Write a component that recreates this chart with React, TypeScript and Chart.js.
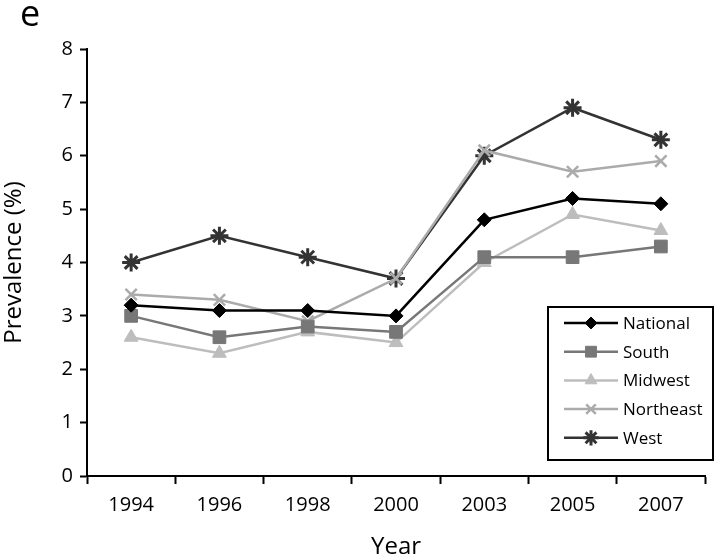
import React, { useEffect, useRef } from "react";
import { Chart, registerables } from "chart.js";
import { drawPoint } from "chart.js/helpers";

Chart.register(...registerables);

const years = ["1994", "1996", "1998", "2000", "2003", "2005", "2007"];
const national = [3.2, 3.1, 3.1, 3.0, 4.8, 5.2, 5.1];
const south = [3.0, 2.6, 2.8, 2.7, 4.1, 4.1, 4.3];
const midwest = [2.6, 2.3, 2.7, 2.5, 4.0, 4.9, 4.6];
const northeast = [3.4, 3.3, 2.9, 3.7, 6.1, 5.7, 5.9];
const west = [4.0, 4.5, 4.1, 3.7, 6.0, 6.9, 6.3];

const FONT = "'Open Sans', 'DejaVu Sans', sans-serif";

const seriesDefs = [
  { label: "National", data: national, color: "#000000", style: "rectRot", radius: 7, bw: 1 },
  { label: "South", data: south, color: "#777777", style: "rect", radius: 9, bw: 1 },
  { label: "Midwest", data: midwest, color: "#bdbdbd", style: "triangle", radius: 8, bw: 1 },
  { label: "Northeast", data: northeast, color: "#ababab", style: "crossRot", radius: 8, bw: 2.5 },
  { label: "West", data: west, color: "#333333", style: "star", radius: 9, bw: 3 },
];

const legendPlugin = {
  id: "boxLegend",
  afterDraw(chart: any) {
    const ctx = chart.ctx;
    const left = 548, top = 307, right = 713, bottom = 460;
    ctx.save();
    ctx.fillStyle = "#ffffff";
    ctx.fillRect(left, top, right - left, bottom - top);
    ctx.strokeStyle = "#000000";
    ctx.lineWidth = 2;
    ctx.strokeRect(left, top, right - left, bottom - top);
    const rowH = 28.7;
    seriesDefs.forEach((s, i) => {
      const y = 323 + i * rowH;
      ctx.strokeStyle = s.color;
      ctx.lineWidth = 2.5;
      ctx.beginPath();
      ctx.moveTo(564, y);
      ctx.lineTo(618, y);
      ctx.stroke();
      ctx.fillStyle = s.color;
      ctx.strokeStyle = s.color;
      ctx.lineWidth = s.bw;
      drawPoint(ctx, { pointStyle: s.style, radius: s.radius * 0.85, rotation: 0, borderWidth: s.bw }, 591, y);
      ctx.fillStyle = "#000000";
      ctx.font = `17px ${FONT}`;
      ctx.textBaseline = "middle";
      ctx.textAlign = "left";
      ctx.fillText(s.label, 623, y + 1);
    });
    ctx.restore();
  },
};

export default function App() {
  const ref = useRef<HTMLCanvasElement>(null);
  useEffect(() => {
    const chart = new Chart(ref.current as HTMLCanvasElement, {
      type: "line",
      data: {
        labels: years,
        datasets: seriesDefs.map((s) => ({
          label: s.label,
          data: s.data,
          borderColor: s.color,
          backgroundColor: s.color,
          pointBackgroundColor: s.color,
          pointBorderColor: s.color,
          pointStyle: s.style as any,
          pointRadius: s.radius,
          pointBorderWidth: s.bw,
          borderWidth: 2.5,
          tension: 0,
          fill: false,
        })),
      },
      options: {
        animation: false,
        responsive: false,
        maintainAspectRatio: false,
        layout: { padding: { top: 49, left: 0, right: 0, bottom: 0 } },
        plugins: {
          legend: { display: false },
          tooltip: { enabled: false },
          title: { display: false },
        },
        scales: {
          x: {
            type: "category",
            offset: true,
            afterFit: (s: any) => { s.height = 83; },
            grid: {
              display: true,
              offset: true,
              drawOnChartArea: false,
              drawTicks: true,
              tickLength: 8,
              tickWidth: 2,
              tickColor: "#000000",
            },
            border: { display: true, color: "#000000", width: 2 },
            ticks: {
              color: "#000000",
              font: { family: FONT, size: 20 },
              padding: 9,
              maxRotation: 0,
            },
            title: {
              display: true,
              text: "Year",
              color: "#000000",
              font: { family: FONT, size: 24, lineHeight: 1.0 },
              padding: { top: 0, bottom: 0 },
            },
          },
          y: {
            min: 0,
            max: 8,
            afterFit: (s: any) => { s.width = 87; },
            grid: {
              display: true,
              drawOnChartArea: false,
              drawTicks: true,
              tickLength: 7,
              tickWidth: 2,
              tickColor: "#000000",
            },
            border: { display: true, color: "#000000", width: 2 },
            ticks: {
              stepSize: 1,
              color: "#000000",
              font: { family: FONT, size: 20 },
              padding: 7,
            },
            title: {
              display: true,
              text: "Prevalence (%)",
              color: "#000000",
              font: { family: FONT, size: 24, lineHeight: 1.0 },
              padding: { top: 2, bottom: 0 },
            },
          },
        },
      },
      plugins: [legendPlugin],
    });
    return () => chart.destroy();
  }, []);
  return (
    <div style={{ position: "absolute", left: 0, top: 0, width: 717, height: 559, background: "#fff" }}>
      <canvas ref={ref} width={717} height={559} style={{ display: "block" }} />
      <div
        style={{
          position: "absolute",
          left: 20,
          top: -12,
          fontFamily: FONT,
          fontSize: 36,
          lineHeight: "50px",
          color: "#000",
        }}
      >
        e
      </div>
    </div>
  );
}
